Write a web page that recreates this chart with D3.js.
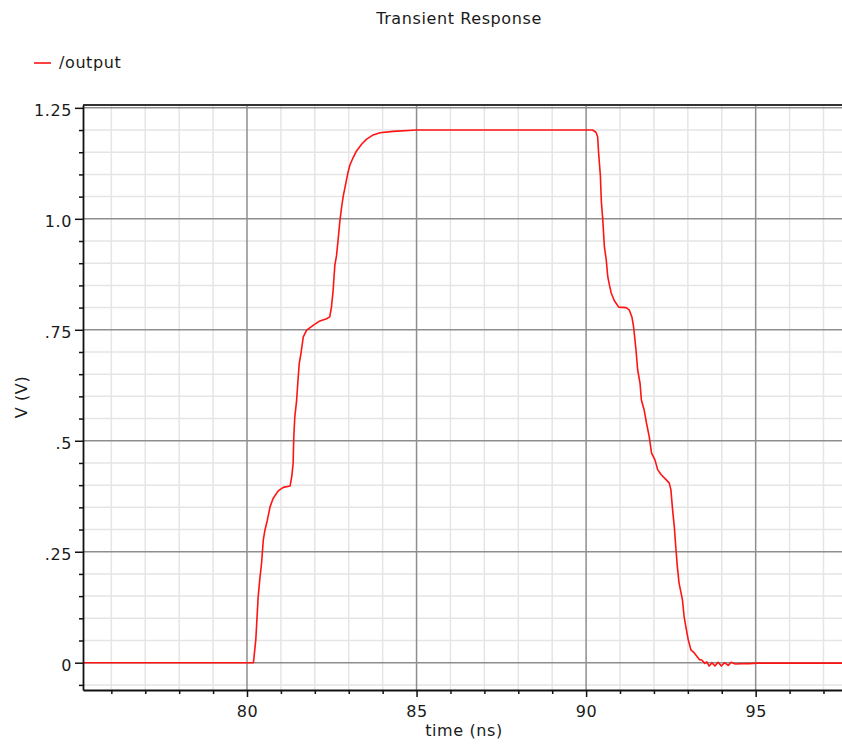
<!DOCTYPE html>
<html lang="en">
<head>
<meta charset="utf-8">
<title>Transient Response</title>
<script src="https://d3js.org/d3.v7.min.js"></script>
<style>
    body { margin: 0; background: white; }
    svg text { font-family: "DejaVu Sans", sans-serif; font-size: 16px; letter-spacing: 0.6px; fill: #1a1a1a; }
</style>
</head>
<body>
<svg id="chart" width="842" height="744"></svg>
<script>

    // /output (time in ns, volts)
    var timeNs = [75.16, 80.19, 80.26, 80.33, 80.38, 80.43, 80.48, 80.53, 80.60, 80.68, 80.77, 80.92, 81.07, 81.27,
        81.32, 81.36, 81.38, 81.41, 81.46, 81.49, 81.54, 81.59, 81.66, 81.76, 81.95, 82.15, 82.35, 82.44,
        82.49, 82.54, 82.59, 82.64, 82.69, 82.74, 82.79, 82.84, 82.88, 82.93, 82.98, 83.03, 83.13, 83.23,
        83.38, 83.52, 83.72, 83.92, 84.31, 85.00, 90.19, 90.29, 90.34, 90.37, 90.42, 90.45, 90.49, 90.54,
        90.59, 90.64, 90.69, 90.74, 90.83, 90.96, 91.18, 91.27, 91.35, 91.40, 91.47, 91.52, 91.59, 91.63,
        91.71, 91.78, 91.86, 91.93, 92.03, 92.11, 92.21, 92.35, 92.45, 92.50, 92.55, 92.60, 92.65, 92.69,
        92.74, 92.84, 92.89, 92.94, 93.01, 93.09, 93.19, 93.34, 93.41, 93.50, 93.56, 93.63, 93.71, 93.80,
        93.89, 93.99, 94.08, 94.19, 94.28, 94.40, 94.58, 94.80, 95.05, 97.55];
    var volts = [0, 0, 0.052, 0.149, 0.19, 0.224, 0.276, 0.299, 0.321, 0.351, 0.37, 0.387, 0.395, 0.398,
        0.419, 0.449, 0.509, 0.554, 0.588, 0.621, 0.674, 0.696, 0.734, 0.749, 0.760, 0.770, 0.775, 0.779,
        0.801, 0.839, 0.895, 0.917, 0.955, 0.996, 1.026, 1.052, 1.067, 1.086, 1.105, 1.12, 1.138, 1.153,
        1.168, 1.179, 1.189, 1.194, 1.197, 1.2, 1.2, 1.195, 1.185, 1.147, 1.098, 1.038, 1.0, 0.936,
        0.91, 0.869, 0.85, 0.833, 0.816, 0.801, 0.8, 0.795, 0.779, 0.757, 0.705, 0.66, 0.63, 0.592,
        0.57, 0.54, 0.51, 0.472, 0.457, 0.435, 0.424, 0.413, 0.405, 0.39, 0.345, 0.307, 0.255, 0.217,
        0.18, 0.142, 0.104, 0.082, 0.052, 0.029, 0.022, 0.007, 0.006, -0.0015, 0.002, -0.0075, 0, -0.0075,
        0.001, -0.0075, 0, -0.006, 0.001, -0.003, -0.002, -0.002, -0.001, -0.001];

    var xMajor = [80, 85, 90, 95];
    var xMinor = [76, 77, 78, 79, 81, 82, 83, 84, 86, 87, 88, 89, 91, 92, 93, 94, 96, 97];
    var yMajor = [0, 0.25, 0.5, 0.75, 1.0, 1.25];
    var yLabels = ["0", ".25", ".5", ".75", "1.0", "1.25"];
    var yMinor = [-0.05, 0.05, 0.1, 0.15, 0.2, 0.3, 0.35, 0.4, 0.45, 0.55, 0.6, 0.65, 0.7,
        0.8, 0.85, 0.9, 0.95, 1.05, 1.1, 1.15, 1.2];

    var plotLeft = 83, plotRight = 842, plotTop = 105, plotBottom = 690;

    var x = d3.scaleLinear().domain([75.164, 97.546]).range([plotLeft, plotRight]);
    var y = d3.scaleLinear().domain([-0.0615, 1.2564]).range([plotBottom, plotTop]);

    var svg = d3.select("#chart");

    svg.append("rect").attr("width", 842).attr("height", 744).attr("fill", "white");

    // grid, minor first then major
    var grid = svg.append("g").attr("stroke-width", 1.5);
    grid.selectAll(".vminor").data(xMinor).enter().append("line")
        .attr("x1", d => x(d)).attr("x2", d => x(d)).attr("y1", plotTop).attr("y2", plotBottom)
        .attr("stroke", "#e5e5e5");
    grid.selectAll(".hminor").data(yMinor).enter().append("line")
        .attr("x1", plotLeft).attr("x2", plotRight).attr("y1", d => y(d)).attr("y2", d => y(d))
        .attr("stroke", "#e5e5e5");
    grid.selectAll(".vmajor").data(xMajor).enter().append("line")
        .attr("x1", d => x(d)).attr("x2", d => x(d)).attr("y1", plotTop).attr("y2", plotBottom)
        .attr("stroke", "#8e8e8e");
    grid.selectAll(".hmajor").data(yMajor).enter().append("line")
        .attr("x1", plotLeft).attr("x2", plotRight).attr("y1", d => y(d)).attr("y2", d => y(d))
        .attr("stroke", "#8e8e8e");

    // the trace
    var line = d3.line()
        .x((d, i) => x(timeNs[i]))
        .y(d => y(d));

    svg.append("path")
        .datum(volts)
        .attr("d", line)
        .attr("fill", "none")
        .attr("stroke", "#ff1414")
        .attr("stroke-width", 1.6)
        .attr("stroke-linejoin", "round");

    // top frame
    svg.append("line").attr("x1", plotLeft).attr("x2", plotRight).attr("y1", plotTop).attr("y2", plotTop)
        .attr("stroke", "#333").attr("stroke-width", 1.8);

    // axes
    var yAxis = svg.append("g").attr("transform", "translate(" + plotLeft + ",0)")
        .call(d3.axisLeft(y).tickValues(yMajor).tickFormat((d, i) => yLabels[i])
            .tickSize(8).tickSizeOuter(0).tickPadding(3));
    svg.append("g").attr("transform", "translate(" + plotLeft + ",0)")
        .call(d3.axisLeft(y).tickValues(yMinor).tickFormat("").tickSize(4).tickSizeOuter(0))
        .select(".domain").remove();

    var xAxis = svg.append("g").attr("transform", "translate(0," + plotBottom + ")")
        .call(d3.axisBottom(x).tickValues(xMajor).tickFormat(d3.format("d"))
            .tickSize(7).tickSizeOuter(0).tickPadding(9));
    svg.append("g").attr("transform", "translate(0," + plotBottom + ")")
        .call(d3.axisBottom(x).tickValues(xMinor).tickFormat("").tickSize(4).tickSizeOuter(0))
        .select(".domain").remove();

    svg.selectAll(".domain").attr("stroke", "#111").attr("stroke-width", 1.8);
    svg.selectAll(".tick line").attr("stroke", "#111").attr("stroke-width", 1.5);
    svg.selectAll(".tick text").attr("font-family", null).attr("font-size", null);
    yAxis.selectAll(".tick text").attr("dy", "0.48em");

    // titles
    svg.append("text").attr("x", 459).attr("y", 24).attr("text-anchor", "middle")
        .text("Transient Response");

    svg.append("text").attr("x", 464).attr("y", 736).attr("text-anchor", "middle")
        .text("time (ns)");

    svg.append("text").attr("transform", "translate(27,397) rotate(-90)").attr("text-anchor", "middle")
        .text("V (V)");

    // legend
    svg.append("line").attr("x1", 34).attr("x2", 51).attr("y1", 63).attr("y2", 63)
        .attr("stroke", "#ff1414").attr("stroke-width", 1.6);
    svg.append("text").attr("x", 59).attr("y", 68).text("/output");

</script>
</body>
</html>
